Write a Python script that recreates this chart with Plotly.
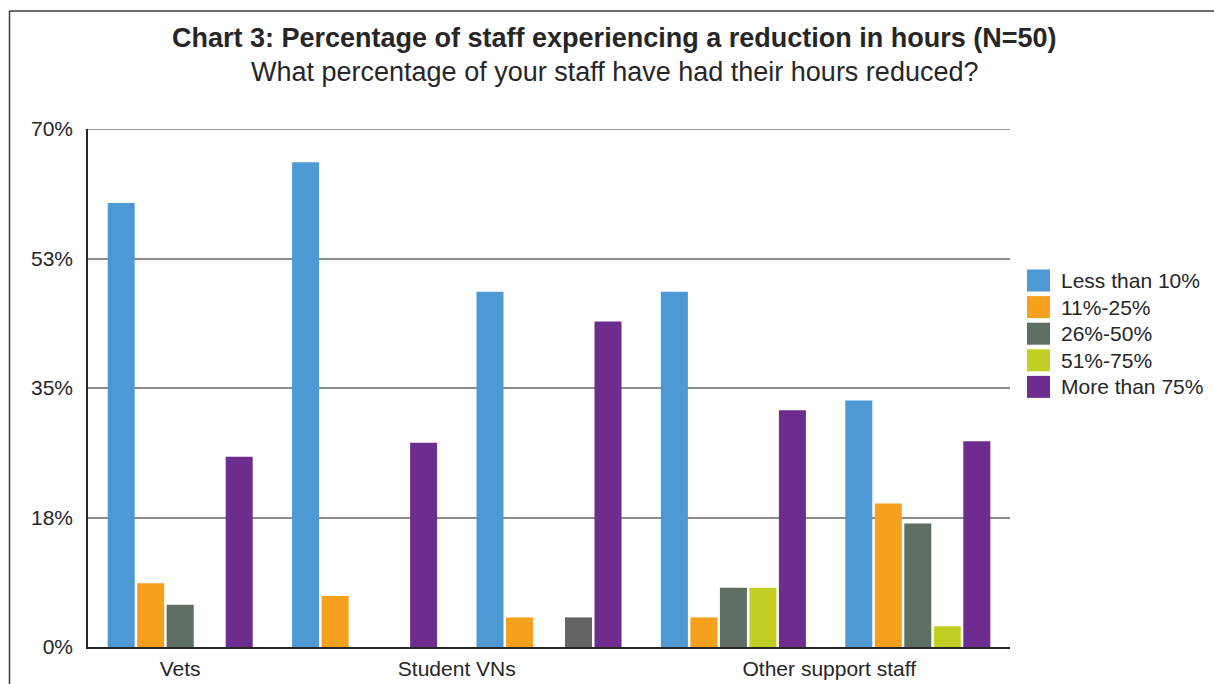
import plotly.graph_objects as go

# Staff groups (x positions 0..4) and the labels shown under the axis
groups = ["Vets", "VNs", "Student VNs", "Practice support", "Other support staff"]
tick_positions = [0, 1.5, 3.52]
tick_labels = ["Vets", "Student VNs", "Other support staff"]

# Share of staff (%) in each reduction band, per group
less_than_10 = [60.0, 65.5, 48.0, 48.0, 33.3]
pct_11_25 = [8.6, 6.9, 4.0, 4.0, 19.4]
pct_26_50 = [5.7, 0.0, 0.0, 8.0, 16.7]
pct_51_75 = [0.0, 0.0, 4.0, 8.0, 2.8]
more_than_75 = [25.7, 27.6, 44.0, 32.0, 27.8]

series_names = ["Less than 10%", "11%-25%", "26%-50%", "51%-75%", "More than 75%"]
series_values = [less_than_10, pct_11_25, pct_26_50, pct_51_75, more_than_75]
series_colors = ["#4e99d4", "#f6a01e", "#5e6e63", "#c2d024", "#6e2c8e"]

y_ticks = [0, 17.5, 35, 52.5, 70]
y_tick_text = ["0%", "18%", "35%", "53%", "70%"]

FONT = "Liberation Sans, Arial, Helvetica, sans-serif"
TEXT = "#262626"

fig = go.Figure()
for name, vals, color in zip(series_names, series_values, series_colors):
    colors = [color] * len(vals)
    if name == "51%-75%":
        colors[2] = "#646464"  # Student VNs bar shaded plain grey
    fig.add_trace(go.Bar(
        x=list(range(len(groups))), y=vals, name=name,
        marker=dict(color=colors, line=dict(width=0)),
        showlegend=False, hovertext=groups,
    ))

W, H = 1214, 684
L, R, T, B = 88, 1010, 129, 647
pw, ph = R - L, B - T


def px_x(v):
    return (v - L) / pw


def px_y(v):
    return (B - v) / ph


shapes = []
annotations = []

# Outer frame (open on the right)
shapes.append(dict(type="line", xref="paper", yref="paper",
                   x0=px_x(9.5), x1=px_x(1214), y0=px_y(11), y1=px_y(11),
                   line=dict(color="#3a3a3a", width=1.5)))
shapes.append(dict(type="line", xref="paper", yref="paper",
                   x0=px_x(9.5), x1=px_x(9.5), y0=px_y(11), y1=px_y(700),
                   line=dict(color="#3a3a3a", width=1.5)))
# Dark line across the top of the value range
shapes.append(dict(type="line", xref="paper", yref="y",
                   x0=0, x1=1, y0=70, y1=70,
                   line=dict(color="#3a3a3a", width=1)))

# Legend swatches and labels
for i, (name, color) in enumerate(zip(series_names, series_colors)):
    cy = 280.5 + i * 26.6
    shapes.append(dict(type="rect", xref="paper", yref="paper",
                       x0=px_x(1027), x1=px_x(1050),
                       y0=px_y(cy - 11), y1=px_y(cy + 11),
                       fillcolor=color, line=dict(width=0)))
    annotations.append(dict(xref="paper", yref="paper", x=px_x(1059), y=px_y(cy),
                            xanchor="left", yanchor="middle", showarrow=False,
                            text=name, font=dict(family=FONT, size=21, color=TEXT)))

# Title and subtitle
annotations.append(dict(xref="paper", yref="paper", x=px_x(614), y=px_y(38),
                        xanchor="center", yanchor="middle", showarrow=False,
                        text="<b>Chart 3: Percentage of staff experiencing a reduction in hours (N=50)</b>",
                        font=dict(family=FONT, size=27, color=TEXT)))
annotations.append(dict(xref="paper", yref="paper", x=px_x(614), y=px_y(72),
                        xanchor="center", yanchor="middle", showarrow=False,
                        text="What percentage of your staff have had their hours reduced?",
                        font=dict(family=FONT, size=27, color=TEXT)))

fig.update_layout(
    width=W, height=H,
    margin=dict(l=L, r=W - R, t=T, b=H - B, pad=0, autoexpand=False),
    paper_bgcolor="white", plot_bgcolor="white",
    barmode="group", bargap=0.2, bargroupgap=0.085,
    font=dict(family=FONT, color=TEXT),
    shapes=shapes, annotations=annotations,
    showlegend=False,
)
fig.update_xaxes(
    range=[-0.5, 4.5], tickmode="array", tickvals=tick_positions, ticktext=tick_labels,
    tickfont=dict(family=FONT, size=21, color=TEXT),
    showline=True, linecolor="#262626", linewidth=2,
    showgrid=False, zeroline=False, ticks="", ticklabelstandoff=2,
    automargin=False,
)
fig.update_yaxes(
    range=[0, 70], tickmode="array", tickvals=y_ticks, ticktext=y_tick_text,
    tickfont=dict(family=FONT, size=21, color=TEXT),
    showline=True, linecolor="#262626", linewidth=1.5,
    showgrid=True, gridcolor="#8c8c8c", gridwidth=1.5,
    zeroline=False, ticks="", ticklabelstandoff=9,
    automargin=False,
)

fig.write_html("out.html")
